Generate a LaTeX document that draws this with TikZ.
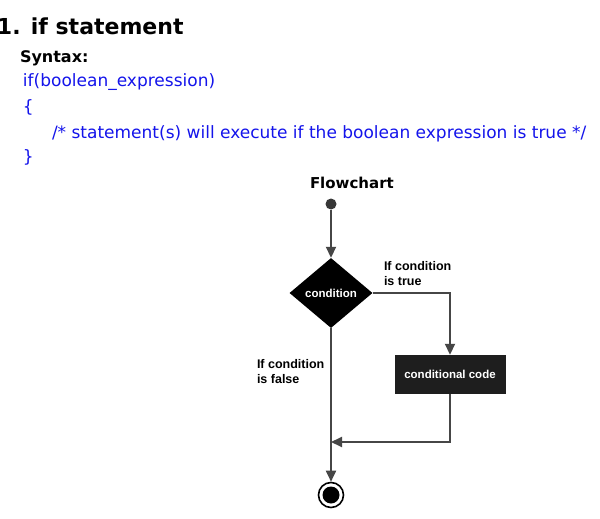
\documentclass[tikz,border=0pt]{standalone}
\usepackage{fontspec}
\setmainfont{Liberation Sans}
\newfontfamily\comic{DejaVu Sans}
\usetikzlibrary{arrows.meta,shapes.geometric}
\definecolor{codeblue}{RGB}{20,20,235}
\definecolor{linegray}{RGB}{70,70,70}
\definecolor{dotgray}{RGB}{55,55,55}
\definecolor{boxfill}{RGB}{30,30,30}
\begin{document}
\begin{tikzpicture}[x=1pt,y=-1pt,
  txt/.style={anchor=base west, inner sep=0pt, outer sep=0pt},
  code/.style={txt, text=codeblue, font=\comic\fontsize{17}{20}\selectfont},
  flow/.style={draw=linegray, line width=1.8pt},
  arr/.style={-{Triangle[length=11pt,width=10pt]}},
  lbl/.style={txt, font=\fontsize{12.5}{14}\selectfont\bfseries},
  inlbl/.style={text=white, font=\fontsize{11.5}{13}\selectfont\bfseries}]
\useasboundingbox (0,0) rectangle (600,519);
\fill[white] (0,0) rectangle (600,519);
% text block
\node[txt, font=\comic\fontsize{22}{26}\selectfont\bfseries] (title) at (-3,35) {1. if statement};
\node[txt, font=\comic\fontsize{16}{19}\selectfont\bfseries] (syntax) at (20,63) {Syntax:};
\node[code] (l1) at (23,87) {if(boolean\_expression)};
\node[code] (l2) at (23,112) {\{};
\node[code] (l3) at (52,138) {/* statement(s) will execute if the boolean expression is true */};
\node[code] (l4) at (23,162) {\}};
% flowchart
\node[txt, font=\comic\fontsize{15}{18}\selectfont\bfseries] (fc) at (310,188) {Flowchart};
\node[circle, fill=dotgray, minimum size=11pt, inner sep=0pt] (start) at (331,204) {};
\node[diamond, fill=black, minimum width=83pt, minimum height=70pt, inner sep=0pt, inlbl] (cond) at (331,293) {condition};
\node[rectangle, fill=boxfill, minimum width=111pt, minimum height=39pt, inner sep=0pt, inlbl] (box) at (450,374.5) {conditional code};
\node[circle, draw=black, fill=white, line width=1.6pt, minimum size=25pt, inner sep=0pt] (end) at (331,495) {};
\node[circle, fill=black, minimum size=17pt, inner sep=0pt] (endin) at (331,495) {};
\coordinate (join) at (331,442);
\draw[flow,arr] (start) -- (cond.north);
\draw[flow,arr] (cond.east) -| (box.north);
\draw[flow,arr] (box.south) |- (join);
\draw[flow,arr] (cond.south) -- (end);
\node[lbl] (t1) at (384,270) {If condition};
\node[lbl] (t2) at (384,285) {is true};
\node[lbl] (f1) at (257,368) {If condition};
\node[lbl] (f2) at (257,383) {is false};
\end{tikzpicture}
\end{document}
